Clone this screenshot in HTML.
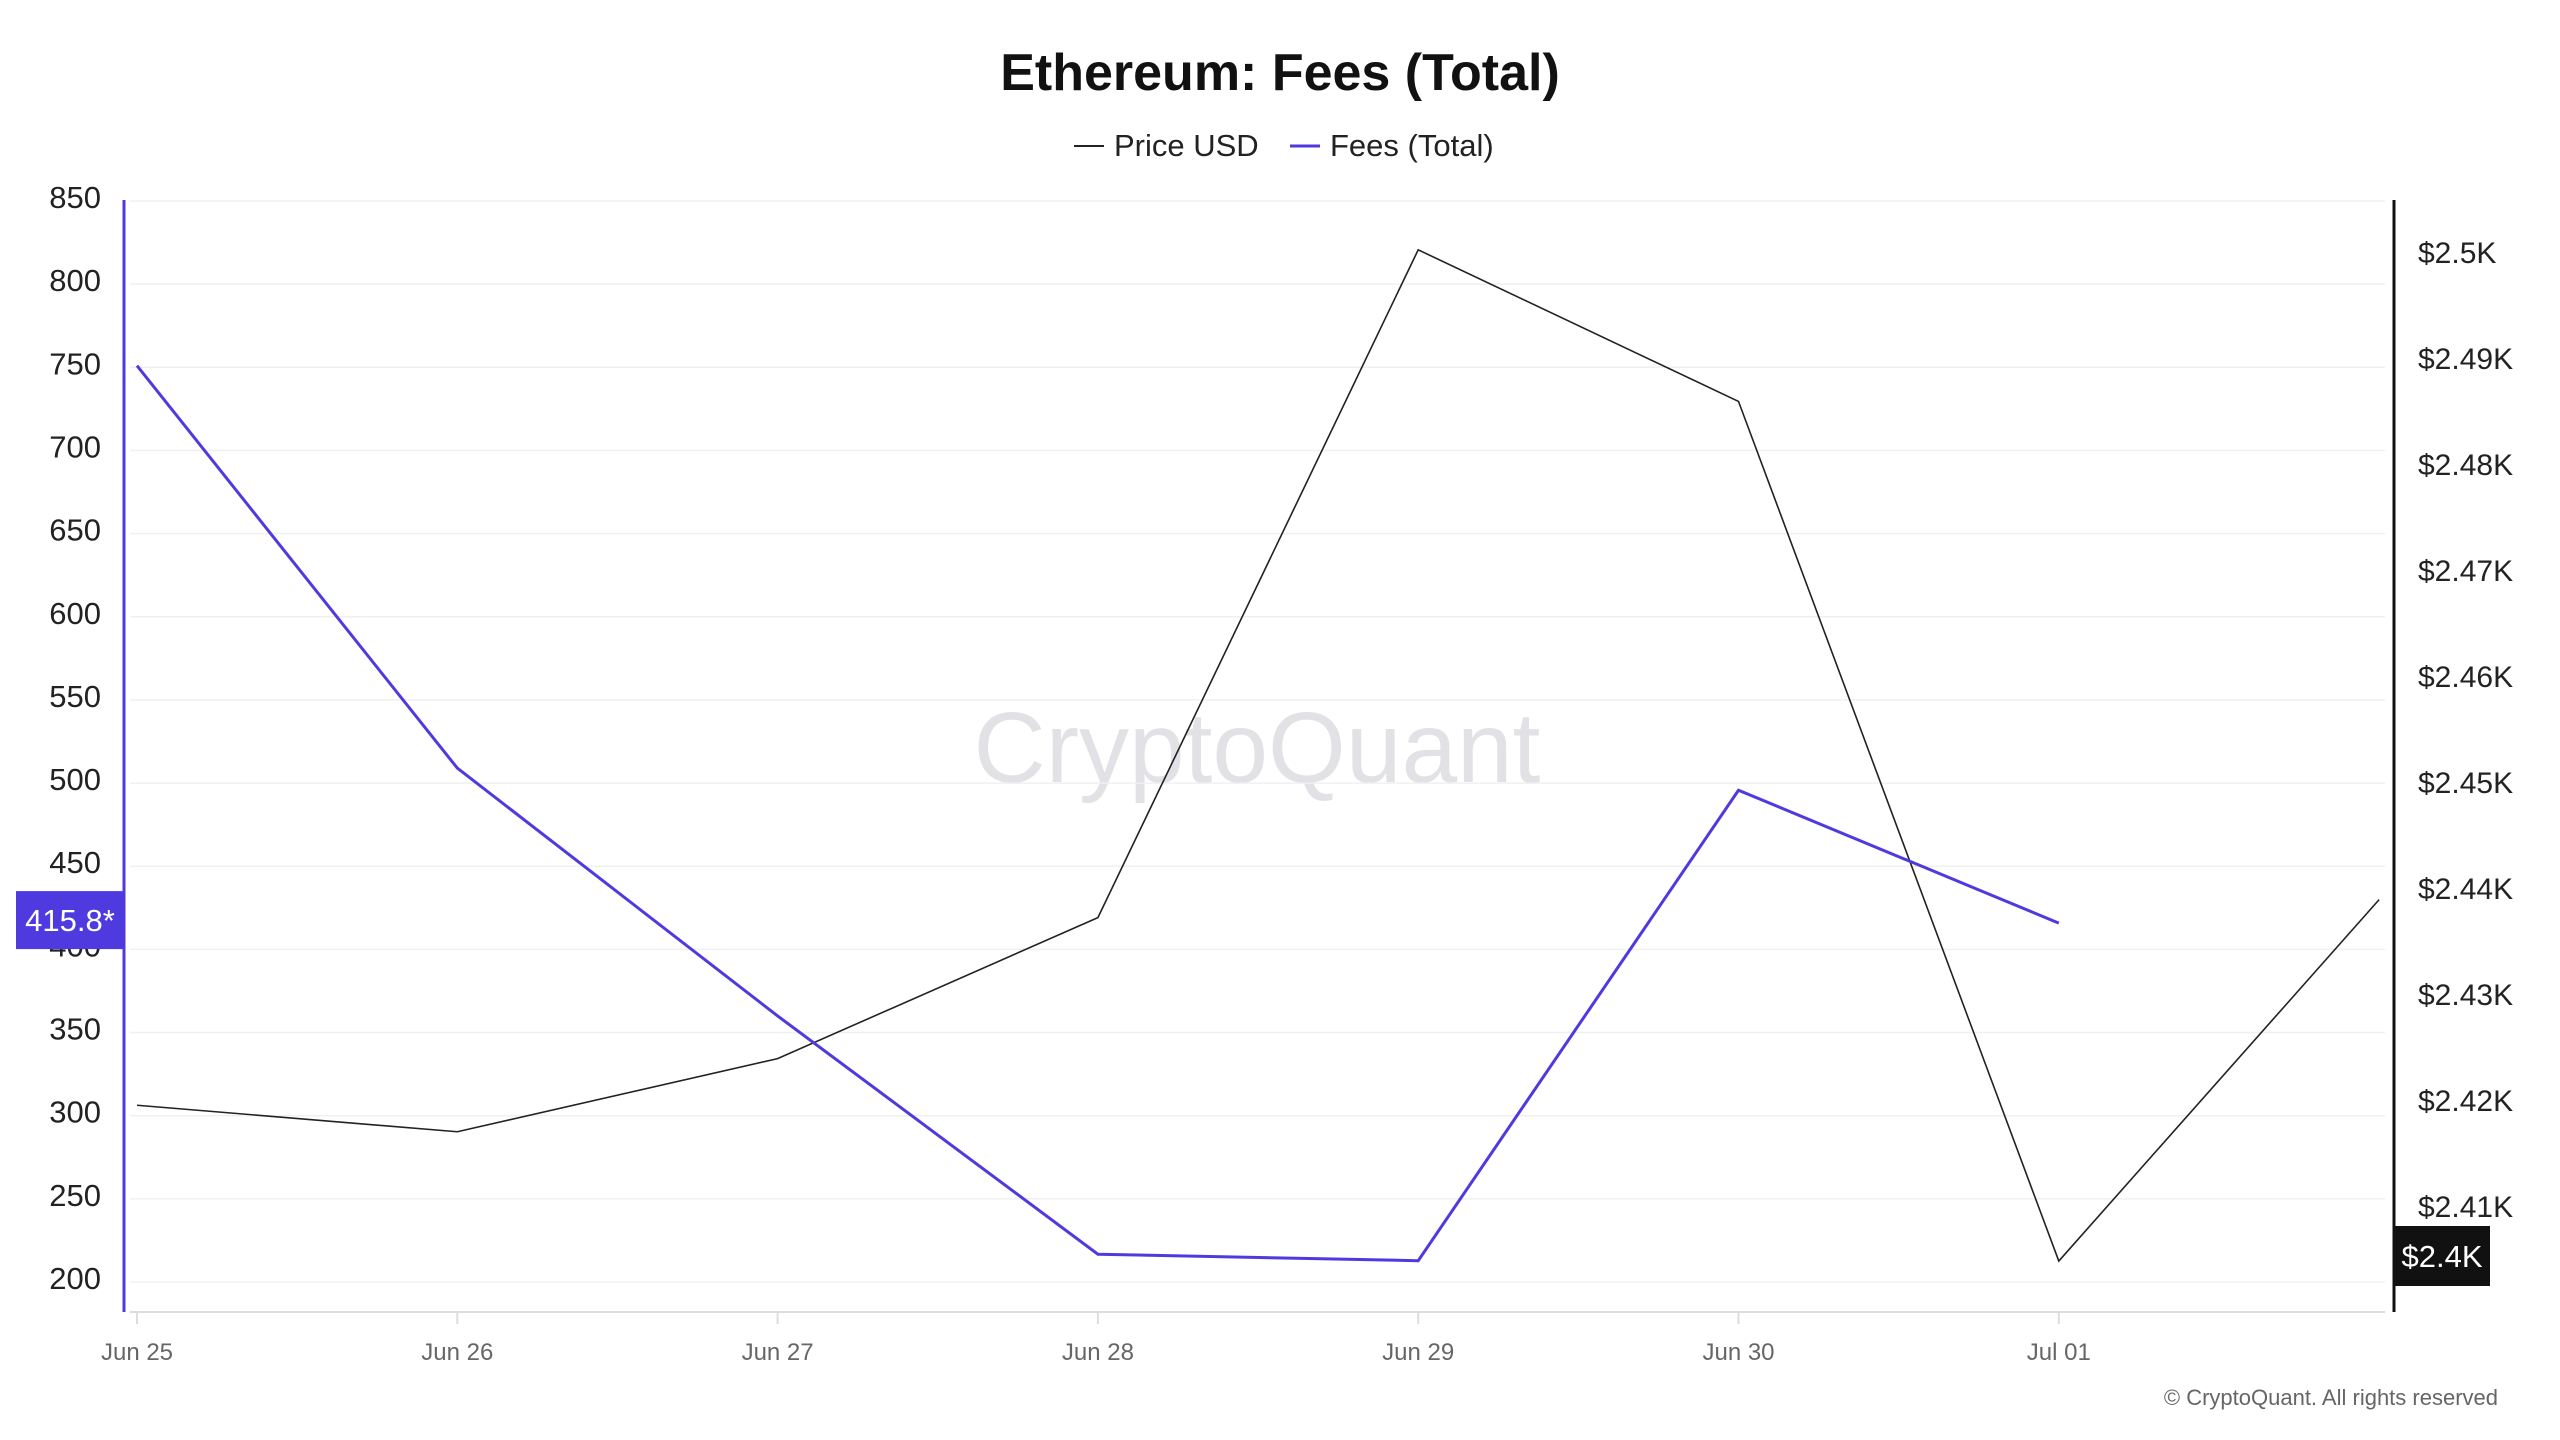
<!DOCTYPE html>
<html><head><meta charset="utf-8"><style>
html,body{margin:0;padding:0;background:#fff;}
svg{display:block;font-family:"Liberation Sans",sans-serif;}
</style></head><body>
<svg id="chart" width="2560" height="1440" viewBox="0 0 2560 1440">
<text x="1280" y="90" text-anchor="middle" font-size="52" font-weight="bold" fill="#111">Ethereum: Fees (Total)</text>
<g>
<line x1="1074" y1="146" x2="1104" y2="146" stroke="#222" stroke-width="2"/>
<text x="1114" y="156" font-size="31" fill="#222">Price USD</text>
<line x1="1290" y1="146" x2="1320" y2="146" stroke="#4f3ae0" stroke-width="3"/>
<text x="1330" y="156" font-size="31" fill="#222">Fees (Total)</text>
</g>
<text x="1257" y="782" text-anchor="middle" font-size="100" fill="#e2e2e6">CryptoQuant</text>
<g id="grid"></g>
<g id="axes"></g>
<g id="series"></g>
<text x="2498" y="1405" text-anchor="end" font-size="22" fill="#666">© CryptoQuant. All rights reserved</text>
</svg>
<script>
const categories=["Jun 25","Jun 26","Jun 27","Jun 28","Jun 29","Jun 30","Jul 01","Jul 02"];
const xTickLabels=["Jun 25","Jun 26","Jun 27","Jun 28","Jun 29","Jun 30","Jul 01"];
const feesValues=[751,509,360,216.7,212.8,495.7,415.8];
const priceValues=[2419.6,2417.1,2424.0,2437.3,2500.3,2486.0,2404.9,2439.0];
const leftTicks=[200,250,300,350,400,450,500,550,600,650,700,750,800,850];
const rightTicks=[2410,2420,2430,2440,2450,2460,2470,2480,2490,2500];
const rightTickLabels=["$2.41K","$2.42K","$2.43K","$2.44K","$2.45K","$2.46K","$2.47K","$2.48K","$2.49K","$2.5K"];
const feesTag="415.8*";
const priceTag="$2.4K";

const NS="http://www.w3.org/2000/svg";
function mk(tag,attrs,parent,text){const e=document.createElementNS(NS,tag);for(const k in attrs)e.setAttribute(k,attrs[k]);if(text!==undefined)e.textContent=text;parent.appendChild(e);return e;}
const x=i=>137+i*320.3;
const yL=v=>1282-(v-200)*(1081/650);
const yR=v=>1207-(v-2410)*(954/90);
const grid=document.getElementById('grid'),axes=document.getElementById('axes'),series=document.getElementById('series');
leftTicks.forEach(v=>{
 const l=mk('line',{x1:130,x2:2385,y1:yL(v),y2:yL(v),stroke:'#f0f0f0','stroke-width':1.5},grid);
 
 
 const t=mk('text',{x:101,y:yL(v)+7,'text-anchor':'end','font-size':31,fill:'#222'},axes,String(v));
 
 
});
rightTicks.forEach((v,i)=>{
 const t=mk('text',{x:2418,y:yR(v)+10,'font-size':30,fill:'#222'},axes,rightTickLabels[i]);
 
 
});
let a=mk('line',{x1:124,x2:124,y1:200,y2:1312,stroke:'#4f3ae0','stroke-width':3},axes);


a=mk('line',{x1:2394,x2:2394,y1:200,y2:1312,stroke:'#111','stroke-width':3},axes);


a=mk('line',{x1:130,x2:2385,y1:1312,y2:1312,stroke:'#ddd','stroke-width':2},axes);


xTickLabels.forEach((lab,i)=>{
 const tk=mk('line',{x1:x(i),x2:x(i),y1:1312,y2:1324,stroke:'#ddd','stroke-width':2},axes);
 
 
 const t=mk('text',{x:x(i),y:1360,'text-anchor':'middle','font-size':24,fill:'#666'},axes,lab);
 
 
});
const pp=mk('polyline',{points:priceValues.map((v,i)=>x(i)+','+yR(v)).join(' '),fill:'none',stroke:'#222','stroke-width':1.6},series);


const fp=mk('polyline',{points:feesValues.map((v,i)=>x(i)+','+yL(v)).join(' '),fill:'none',stroke:'#4f3ae0','stroke-width':3},series);


const lastFee=feesValues[feesValues.length-1];
let r=mk('rect',{x:16,y:yL(lastFee)-32,width:108,height:58,fill:'#4f3ae0'},axes);


let t=mk('text',{x:70,y:yL(lastFee)+8,'text-anchor':'middle','font-size':31,fill:'#fff'},axes,feesTag);


r=mk('rect',{x:2394,y:1226,width:96,height:60,fill:'#111'},axes);


t=mk('text',{x:2442,y:1267,'text-anchor':'middle','font-size':31,fill:'#fff'},axes,priceTag);


</script>
</body></html>
